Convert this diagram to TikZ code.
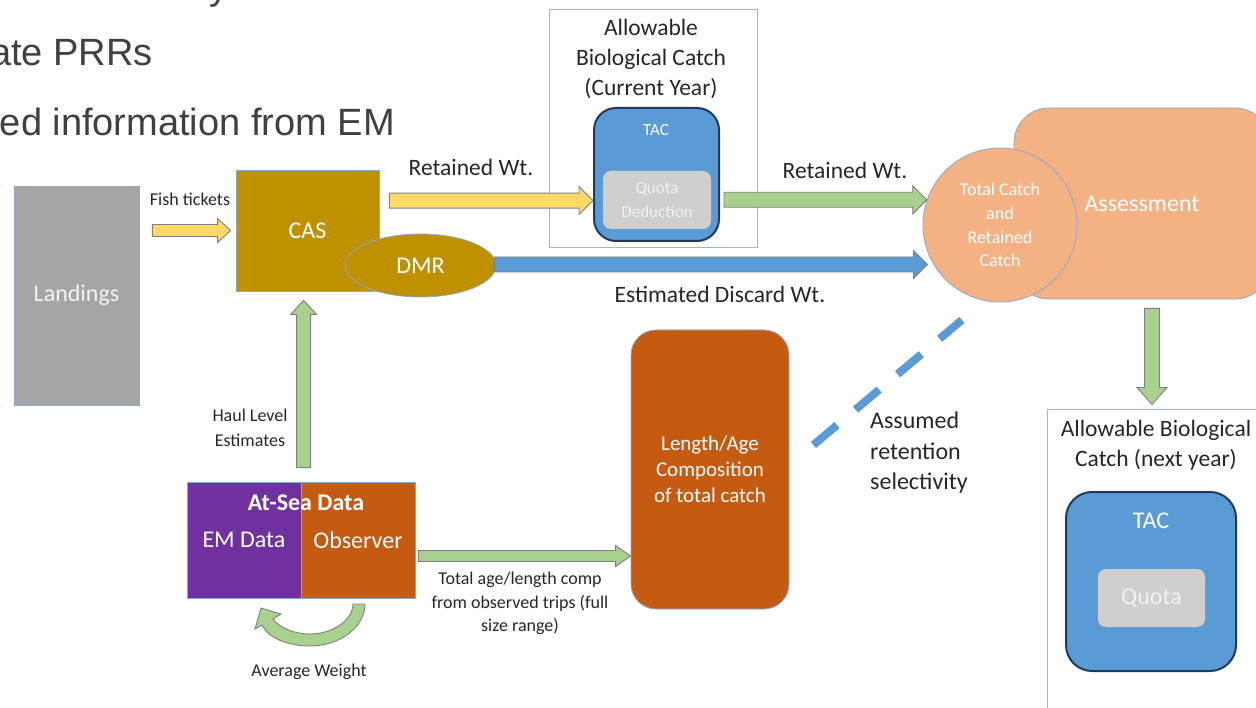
\documentclass[tikz,border=0pt]{standalone}
\usepackage{fontspec}
\setmainfont{Carlito}
\newfontfamily\slidefont{Liberation Sans}
\usetikzlibrary{calc,shapes.geometric}

\definecolor{edgeblue}{HTML}{8EA8C9}
\definecolor{landgray}{HTML}{A5A5A5}
\definecolor{casgold}{HTML}{BF9000}
\definecolor{arryellow}{HTML}{FFD966}
\definecolor{arrgreen}{HTML}{A9D18E}
\definecolor{arrblue}{HTML}{5B9BD5}
\definecolor{arrgray}{HTML}{7F7F7F}
\definecolor{tacedge}{HTML}{1F3A5C}
\definecolor{quotagray}{HTML}{D0CECE}
\definecolor{peach}{HTML}{F4B183}
\definecolor{empurple}{HTML}{7030A0}
\definecolor{obsorange}{HTML}{C55A11}
\definecolor{framebl}{HTML}{9DB4D4}
\definecolor{slidegray}{HTML}{404040}
\definecolor{inkgray}{HTML}{262626}

\tikzset{
  plainbox/.style={draw=edgeblue, line width=0.8pt, inner sep=0pt, text=white,
    align=center, font=\fontsize{24}{29}\selectfont},
  frame/.style={draw=framebl, line width=1pt, inner sep=0pt},
  tacbox/.style={draw=tacedge, line width=2pt, fill=arrblue, rounded corners=22pt, inner sep=0pt},
  quotabox/.style={fill=quotagray, rounded corners=8pt, inner sep=0pt, text=white!95!black,
    align=center},
  lbl/.style={text=inkgray, align=center, inner sep=0pt, font=\fontsize{23.5}{30}\selectfont},
  smalllbl/.style={text=inkgray, align=center, inner sep=0pt, font=\fontsize{18}{24}\selectfont},
  slidetxt/.style={text=slidegray, inner sep=0pt, font=\slidefont\fontsize{38}{46}\selectfont},
  blockarrow/.style={draw=arrgray, line width=0.9pt, line join=miter},
  selline/.style={draw=arrblue, line width=8pt, dash pattern=on 31pt off 24pt}
}

% block arrow from #2 to #3, sizes from \arrshaft, \arrhead, \arrlen
\newcommand\arrshaft{7.5pt}
\newcommand\arrhead{14pt}
\newcommand\arrlen{14pt}
\newcommand\blockarrow[3][]{%
  \coordinate (ba-c) at ($(#3)!\arrlen!(#2)$);
  \filldraw[blockarrow,#1] ($(#2)!\arrshaft!90:(#3)$) -- ($(ba-c)!\arrshaft!-90:(#2)$)
    -- ($(ba-c)!\arrhead!-90:(#2)$) -- (#3) -- ($(ba-c)!\arrhead!90:(#2)$)
    -- ($(ba-c)!\arrshaft!90:(#2)$) -- ($(#2)!\arrshaft!-90:(#3)$) -- cycle;}

\begin{document}
\begin{tikzpicture}[x=1pt,y=-1pt]
\useasboundingbox (0,0) rectangle (1256,708);
\clip (0,0) rectangle (1256,708);

% slide text behind the diagram
\node[slidetxt, anchor=base west] (bul1) at (209,0) {y};
\node[slidetxt, anchor=base east] (bul2) at (153,66) {ate PRRs};
\node[slidetxt, anchor=base east] (bul3) at (395,136) {ed information from EM};

% frames
\node[frame, minimum width=208pt, minimum height=238pt] (abcnow) at (653,129) {};
\node[lbl] (abcnow-t) at (651,59) {Allowable\\Biological Catch\\(Current Year)};
\node[frame, minimum width=223pt, minimum height=310pt] (abcnext) at (1158.5,565) {};
\node[lbl] (abcnext-t) at (1156,445) {Allowable Biological\\Catch (next year)};

% boxes
\node[plainbox, fill=landgray, text=white!95!black, minimum width=125pt, minimum height=219pt] (land) at (76.5,295.5) {Landings};
\node[plainbox, fill=casgold, minimum width=143pt, minimum height=121pt] (cas) at (307.5,230.5) {CAS};
\node[plainbox, ellipse, fill=casgold, minimum width=151pt, minimum height=63pt] (dmr) at (420.5,265.5) {DMR};

\node[tacbox, minimum width=125pt, minimum height=133pt] (tacnow) at (656.5,174.5) {};
\node[text=white, font=\fontsize{17}{20}\selectfont] (tacnow-t) at (656,130) {TAC};
\node[quotabox, minimum width=108pt, minimum height=58pt, font=\fontsize{17}{24}\selectfont] (quotanow) at (657,200) {Quota\\Deduction};

\node[plainbox, fill=peach, rounded corners=35pt, minimum width=256pt, minimum height=191pt] (assess) at (1142,203.5) {Assessment};
\node[plainbox, circle, fill=peach, minimum size=154pt, font=\fontsize{18}{23.7}\selectfont] (total) at (1000,225) {Total Catch\\and\\Retained\\Catch};

\node[tacbox, rounded corners=26pt, minimum width=170pt, minimum height=179pt] (tacnext) at (1151,581.5) {};
\node[text=white, font=\fontsize{24}{28}\selectfont] (tacnext-t) at (1151,521) {TAC};
\node[quotabox, minimum width=107pt, minimum height=58pt, font=\fontsize{24}{28}\selectfont] (quotanext) at (1151.5,598) {Quota};

\node[plainbox, fill=empurple, minimum width=114pt, minimum height=116pt] (em) at (244,540) {EM Data};
\node[plainbox, fill=obsorange, minimum width=114pt, minimum height=116pt] (obs) at (358,540) {Observer};
\node[text=white, font=\bfseries\fontsize{24}{28}\selectfont] (atsea) at (306,503) {At-Sea Data};

\node[plainbox, fill=obsorange, rounded corners=25pt, font=\fontsize{21}{26}\selectfont, minimum width=158pt, minimum height=279pt] (lenage) at (710,469.5) {Length/Age\\Composition\\of total catch};

% arrows
\coordinate (ft-a) at ($(land.east|-cas.west)+(13,0)$);
\coordinate (ft-b) at ($(cas.west)+(-5,0)$);
{\renewcommand\arrshaft{6pt}\renewcommand\arrhead{12pt}\renewcommand\arrlen{13pt}
\blockarrow[fill=arryellow]{ft-a}{ft-b}}

\coordinate (ret1-a) at ($(cas.north east)+(10,31)$);
\coordinate (ret1-b) at (tacnow.west|-ret1-a);
\blockarrow[fill=arryellow]{ret1-a}{ret1-b}

\coordinate (ret2-a) at ($(tacnow.east|-total.161)+(4,0)$);
\coordinate (ret2-b) at (total.161);
\blockarrow[fill=arrgreen]{ret2-a}{ret2-b}

\coordinate (dis-a) at ($(dmr.east)+(-2,-1)$);
\coordinate (dis-b) at ($(total.west|-dis-a)+(5,0)$);
\blockarrow[fill=arrblue]{dis-a}{dis-b}

\coordinate (dn-a) at ($(assess.south)+(10,9)$);
\coordinate (dn-b) at ($(dn-a|-abcnext.north)+(0,-5)$);
{\renewcommand\arrhead{15pt}\renewcommand\arrlen{17pt}
\blockarrow[fill=arrgreen]{dn-a}{dn-b}}

\coordinate (up-a) at ($(obs.north west)+(3,-14)$);
\coordinate (up-b) at ($(up-a|-cas.south)+(0,9)$);
{\renewcommand\arrshaft{7pt}\renewcommand\arrhead{13pt}
\blockarrow[fill=arrgreen]{up-a}{up-b}}

\coordinate (age-a) at ($(obs.east)+(3,16)$);
\coordinate (age-b) at (lenage.west|-age-a);
{\renewcommand\arrshaft{5.5pt}\renewcommand\arrhead{10.5pt}\renewcommand\arrlen{15pt}
\blockarrow[fill=arrgreen]{age-a}{age-b}}

% curved arrow under the at-sea box
\filldraw[blockarrow, fill=arrgreen] (365,604) .. controls (365,627) and (340,646) .. (310,646)
  .. controls (288,646) and (268,638) .. (262,625) -- (255,629) -- (261,608) -- (281,614)
  -- (273,619) .. controls (280,628) and (294,634) .. (310,634)
  .. controls (333,634) and (353,620) .. (353,604) -- cycle;

% selectivity line
\coordinate (sel-a) at ($(lenage.east)+(24,-24.5)$);
\coordinate (sel-b) at ($(total.center)+(-38,95)$);
\draw[selline] (sel-a) -- (sel-b);

% labels
\node[smalllbl] (ft-l) at (190,199) {Fish tickets};
\node[lbl] (ret1-l) at (471,167) {Retained Wt.};
\node[lbl] (ret2-l) at (845,170) {Retained Wt.};
\node[lbl] (dis-l) at (720,294) {Estimated Discard Wt.};
\node[smalllbl, font=\fontsize{18}{25}\selectfont] (up-l) at (250,427.5) {Haul Level\\Estimates};
\node[smalllbl] (avg-l) at (309,672) {Average Weight};
\node[smalllbl, font=\fontsize{18}{23.5}\selectfont] (age-l) at (520,603.5) {Total age/length comp\\from observed trips (full\\size range)};
\node[lbl, align=left, anchor=west, font=\fontsize{24}{30.5}\selectfont] (sel-l) at (870,453) {Assumed\\retention\\selectivity};
\end{tikzpicture}
\end{document}
